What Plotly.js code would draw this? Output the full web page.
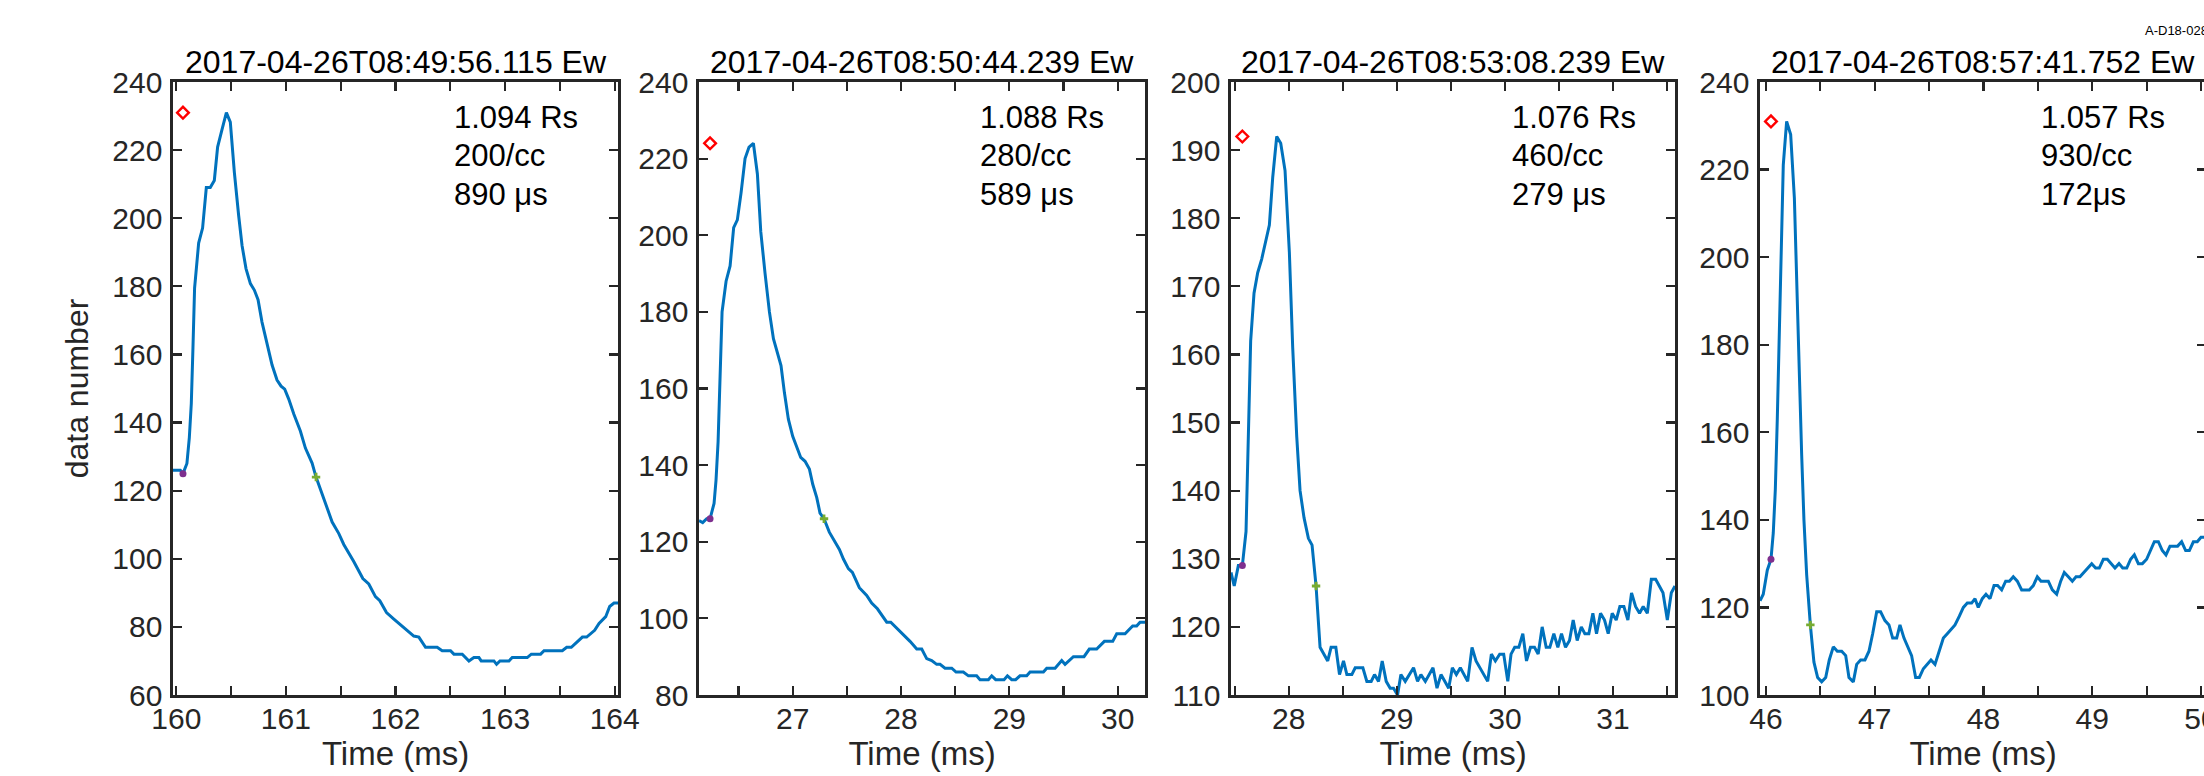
<!DOCTYPE html>
<html>
<head>
<meta charset="utf-8">
<script src="https://cdn.plot.ly/plotly-3.0.1.min.js"></script>
<style>
  html, body { margin: 0; padding: 0; background: #fff; }
  #wrap { width: 2204px; height: 776px; overflow: hidden; position: relative; }
  #plot { width: 2212px; height: 776px; }
</style>
</head>
<body>
<div id="wrap"><div id="plot"></div></div>
<script>
// ---------------- data ----------------
const TITLES = ["2017-04-26T08:49:56.115 Ew", "2017-04-26T08:50:44.239 Ew",
                "2017-04-26T08:53:08.239 Ew", "2017-04-26T08:57:41.752 Ew"];
const INFO_R = ["1.094 Rs", "1.088 Rs", "1.076 Rs", "1.057 Rs"];
const INFO_N = ["200/cc", "280/cc", "460/cc", "930/cc"];
const INFO_W = ["890 μs", "589 μs", "279 μs", "172μs"];
const X_RANGES = [[159.97, 164.03], [26.135, 30.252], [27.466, 31.574], [45.945, 50.046]];
const Y_RANGES = [[60, 240], [80, 240], [110, 200], [100, 240]];
const Y_DTICK = [20, 20, 10, 20];

const P1_T = [159.97,160.037,160.061,160.097,160.119,160.137,160.152,160.167,160.204,160.24,160.274,160.31,160.347,160.377,160.417,160.457,160.493,160.53,160.569,160.6,160.636,160.676,160.712,160.746,160.782,160.834,160.874,160.919,160.956,160.989,161.026,161.072,161.132,161.178,161.239,161.275,161.345,161.422,161.483,161.528,161.619,161.702,161.756,161.817,161.857,161.918,161.985,162.076,162.167,162.213,162.274,162.38,162.426,162.502,162.533,162.609,162.67,162.715,162.761,162.782,162.898,162.922,162.953,163.035,163.065,163.202,163.239,163.324,163.355,163.522,163.562,163.604,163.705,163.744,163.817,163.857,163.918,163.954,163.994,164.03];
const P1_V = [126,126,125,128,135.6,145.6,161.9,179.5,192.7,197.1,209,209,211.1,220.9,226,231,228.2,213.4,200.8,192,185.2,180.8,178.9,176.1,169.5,161.9,156.9,152.5,150.7,149.8,146.9,142.5,137.5,132.5,128.1,124,118,110.8,107.4,104.2,99.2,94.2,92.6,88.9,87.7,84.2,82.3,79.8,77.3,77,74,74,73,73,72,72,70,71,71,70,70,69,70,70,71,71,72,72,73,73,74,74,77,77,79,81,83,86,87,87];

const P2_T = [26.135,26.169,26.206,26.237,26.274,26.292,26.311,26.329,26.348,26.385,26.422,26.455,26.489,26.523,26.56,26.597,26.637,26.674,26.705,26.745,26.785,26.822,26.858,26.892,26.923,26.96,27.0,27.037,27.074,27.114,27.154,27.185,27.222,27.252,27.289,27.338,27.382,27.431,27.468,27.514,27.551,27.615,27.683,27.729,27.782,27.831,27.868,27.905,27.96,28.037,28.083,28.145,28.191,28.237,28.283,28.329,28.36,28.406,28.468,28.508,28.575,28.622,28.698,28.729,28.806,28.837,28.874,28.951,28.982,29.022,29.058,29.098,29.16,29.191,29.314,29.345,29.422,29.483,29.514,29.591,29.689,29.738,29.806,29.877,29.954,29.991,30.068,30.138,30.175,30.206,30.252];
const P2_V = [125.5,125,126,126,130,136,146,163,180,188,192,202,204,211,220,223,224,216,201,190,180,173,169,166,159,152,147.5,144.5,142,141,139,135,131.5,127.5,126,122.5,120.5,118,115.5,113,112,108,106,104,102.5,100.5,99,99,97.5,95.5,94,92,92,89.5,89,88,88,87,87,86,86,85,85,84,84,85,84,84,85,84,84,85,85,86,86,87,87,89,88,90,90,92,92,94,94,96,96,98,98,99,99];

const P3_T = [27.466,27.496,27.534,27.571,27.605,27.626,27.648,27.679,27.713,27.75,27.79,27.821,27.852,27.889,27.926,27.966,28.006,28.037,28.074,28.105,28.142,28.182,28.216,28.235,28.253,28.29,28.327,28.361,28.392,28.436,28.47,28.507,28.538,28.584,28.615,28.686,28.723,28.763,28.794,28.831,28.865,28.902,28.939,28.97,29.007,29.038,29.078,29.155,29.192,29.223,29.264,29.335,29.372,29.409,29.48,29.514,29.551,29.588,29.656,29.696,29.733,29.841,29.875,29.912,29.952,29.989,30.027,30.057,30.091,30.129,30.166,30.2,30.237,30.274,30.308,30.345,30.382,30.416,30.453,30.49,30.524,30.561,30.598,30.632,30.669,30.707,30.74,30.777,30.814,30.848,30.885,30.922,30.956,30.993,31.03,31.064,31.101,31.138,31.172,31.209,31.246,31.28,31.318,31.355,31.395,31.426,31.463,31.503,31.54,31.574];
const P3_V = [128,126,129,129,134,148,162,169,172,174,177,179,186,192,191,187,175,161,148,140,136,133,132,129,126,117,116,115,117,117,113,115,113,113,114,114,112,112,113,112,115,112,111,111,110,113,112,114,112,113,112,114,111,113,111,114,113,114,112,117,115,112,116,115,116,116,112,116,117,117,119,115,117,117,116,120,117,117,119,117,119,117,118,121,118,120,119,119,122,119,122,121,119,122,121,123,123,121,125,123,122,123,122,127,127,126,125,121,125,126];

const P4_T = [45.945,45.975,46.012,46.046,46.067,46.086,46.104,46.123,46.141,46.159,46.19,46.227,46.261,46.282,46.307,46.328,46.349,46.374,46.408,46.441,46.475,46.512,46.549,46.582,46.619,46.656,46.696,46.733,46.763,46.803,46.834,46.87,46.91,46.947,46.981,47.018,47.054,47.094,47.131,47.165,47.202,47.232,47.269,47.303,47.339,47.376,47.41,47.447,47.483,47.517,47.554,47.594,47.631,47.667,47.738,47.778,47.815,47.851,47.891,47.922,47.952,47.989,48.023,48.06,48.097,48.13,48.167,48.204,48.238,48.274,48.311,48.351,48.421,48.458,48.495,48.529,48.596,48.633,48.673,48.71,48.743,48.78,48.817,48.851,48.887,48.995,49.031,49.065,49.102,49.139,49.209,49.246,49.28,49.317,49.353,49.387,49.424,49.461,49.5,49.571,49.608,49.644,49.678,49.715,49.785,49.822,49.859,49.893,49.93,49.966,50.0,50.046];
const P4_V = [121.5,123,128.5,131,137,147,163,181,201,221,231,228,213.5,194,169.5,155,140,127.5,116,107.5,104,103,104,108,111,110,110,109,104,103,107,108,108,110,114,119,119,117,116,113,113,116,113,111,109,104,104,106,107,108,107,110,113,114,116,118,120,121,121,122,120,122,123,122,125,125,124,126,126,127,126,124,124,125,127,126,126,124,123,126,128,127,126,127,127,130,129,129,131,131,129,130,129,129,131,132,130,130,131,135,135,133,132,134,134,135,133,133,135,135,136,136];

const PEAK_T  = [160.061, 26.237, 27.571, 46.046];
const PEAK_V  = [231, 224, 192, 231];
const ONSET_V = [125, 126, 129, 131];
const HALF_T  = [161.275, 27.289, 28.253, 46.408];
const HALF_V  = [124, 126, 126, 116];

const SERIES_T = [P1_T, P2_T, P3_T, P4_T];
const SERIES_V = [P1_V, P2_V, P3_V, P4_V];

// ---------------- layout geometry ----------------
const W = 2212, H = 776;
const PANEL_PX = [[173, 618], [699, 1145], [1231, 1675], [1760, 2206]];
const TOP_PX = 82, BOT_PX = 695;
const FONT = "Liberation Sans, Arial, Helvetica, sans-serif";
const AX = "#262626";

const traces = [];
const layout = {
  width: W, height: H,
  margin: {l: 0, r: 0, t: 0, b: 0, pad: 0},
  paper_bgcolor: "#ffffff", plot_bgcolor: "#ffffff",
  showlegend: false,
  font: {family: FONT, color: AX, size: 30},
  annotations: []
};

for (let i = 0; i < 4; i++) {
  const s = i === 0 ? "" : String(i + 1);
  const xa = "x" + s, ya = "y" + s;
  traces.push({
    x: SERIES_T[i], y: SERIES_V[i], xaxis: xa, yaxis: ya,
    type: "scatter", mode: "lines", hoverinfo: "skip",
    line: {color: "#0072BD", width: 3}
  });
  traces.push({
    x: [PEAK_T[i]], y: [PEAK_V[i]], xaxis: xa, yaxis: ya,
    type: "scatter", mode: "markers",
    marker: {symbol: "diamond-open", size: 9, color: "#FF0000", line: {width: 2.4, color: "#FF0000"}}
  });
  traces.push({
    x: [PEAK_T[i]], y: [ONSET_V[i]], xaxis: xa, yaxis: ya,
    type: "scatter", mode: "markers",
    marker: {symbol: "circle", size: 7, color: "#7E2F8E"}
  });
  traces.push({
    x: [HALF_T[i]], y: [HALF_V[i]], xaxis: xa, yaxis: ya,
    type: "scatter", mode: "markers",
    marker: {symbol: "cross", size: 7, color: "#77AC30"}
  });

  const common = {
    showline: true, mirror: "ticks", linecolor: AX, linewidth: 2.6,
    ticks: "inside", ticklen: 9, tickwidth: 2.2, tickcolor: AX,
    showgrid: false, zeroline: false, fixedrange: true,
    tickfont: {family: FONT, size: 30, color: AX}
  };
  layout["xaxis" + s] = Object.assign({}, common, {
    domain: [PANEL_PX[i][0] / W, PANEL_PX[i][1] / W],
    range: X_RANGES[i], dtick: 1, tick0: 0, anchor: ya,
    ticklabelstandoff: -5, ticklabeloverflow: "allow",
    minor: {dtick: 0.5, tick0: 0, ticks: "inside", ticklen: 9, tickwidth: 2.2, tickcolor: AX, showgrid: false},
    title: {text: "Time (ms)", font: {family: FONT, size: 33, color: AX}, standoff: 8}
  });
  layout["yaxis" + s] = Object.assign({}, common, {
    domain: [(H - BOT_PX) / H, (H - TOP_PX) / H],
    range: Y_RANGES[i], dtick: Y_DTICK[i], tick0: 0, anchor: xa,
    ticklabelstandoff: 2
  });
  if (i === 0) {
    layout.yaxis.title = {text: "data number", font: {family: FONT, size: 32, color: AX}, standoff: 14};
  }

  const cx = (PANEL_PX[i][0] + PANEL_PX[i][1]) / 2 / W;
  layout.annotations.push({
    xref: "paper", yref: "paper", x: cx, y: (H - 62) / H,
    xanchor: "center", yanchor: "middle", showarrow: false,
    text: TITLES[i], font: {family: FONT, size: 32, color: "#000000"}
  });
  const tx = (PANEL_PX[i][0] + 279) / W;
  const lines = [INFO_R[i], INFO_N[i], INFO_W[i]];
  const ly = [117, 155.5, 194];
  for (let k = 0; k < 3; k++) {
    layout.annotations.push({
      xref: "paper", yref: "paper", x: tx, y: (H - ly[k]) / H,
      xanchor: "left", yanchor: "middle", showarrow: false,
      text: lines[k], font: {family: FONT, size: 31, color: "#000000"}
    });
  }
}
layout.annotations.push({
  xref: "paper", yref: "paper", x: 2143 / W, y: (H - 31) / H,
  xanchor: "left", yanchor: "middle", showarrow: false,
  text: "A-D18-028", font: {family: FONT, size: 13, color: "#000000"}
});

Plotly.newPlot("plot", traces, layout, {displayModeBar: false, staticPlot: true});
</script>
</body>
</html>
